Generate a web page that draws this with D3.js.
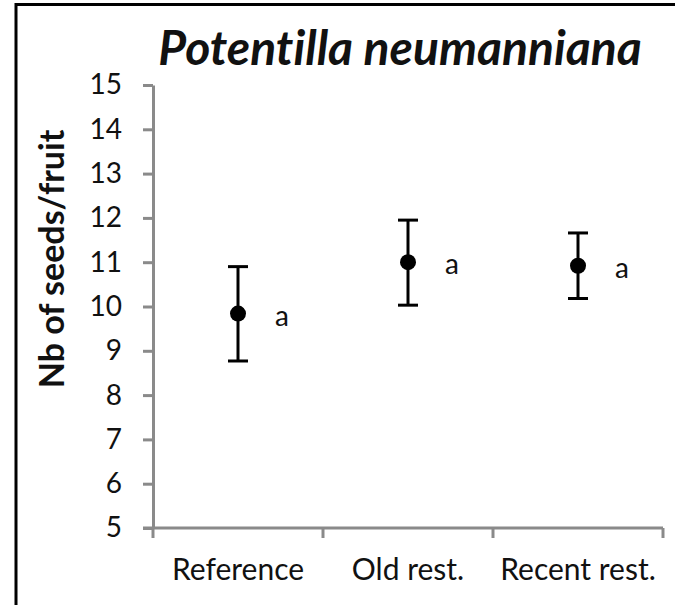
<!DOCTYPE html>
<html>
<head>
<meta charset="utf-8">
<script src="https://cdn.jsdelivr.net/npm/d3@7.9.0/dist/d3.min.js"></script>
<style>
  html, body { margin: 0; padding: 0; background: #fff; }
  svg { display: block; }
  text { font-family: Lato, "Open Sans", sans-serif; fill: #111; font-variant-ligatures: none; }
</style>
</head>
<body>
<svg id="chart" width="675" height="605"></svg>
<script>
// data
const categories = ['Reference', 'Old rest.', 'Recent rest.'];
const means = [9.84, 11.0, 10.92];
const upper = [10.9, 11.95, 11.66];
const lower = [8.77, 10.03, 10.18];
const letters = ['a', 'a', 'a'];
const yTicks = [5, 6, 7, 8, 9, 10, 11, 12, 13, 14, 15];

const svg = d3.select('#chart');
const axisColor = '#8a8a8a';

// scales
const x = d3.scaleBand().domain(categories).range([153, 663]).padding(0);
const y = d3.scaleLinear().domain([5, 15]).range([528, 85]);

// frame (top + left edges only)
svg.append('path')
  .attr('d', 'M16,605 L16,4.5 L675,4.5')
  .attr('fill', 'none')
  .attr('stroke', '#000')
  .attr('stroke-width', 3);

// title
svg.append('text')
  .attr('x', 400)
  .attr('y', 65)
  .attr('text-anchor', 'middle')
  .style('font-size', '48px')
  .style('font-weight', 'bold')
  .style('font-style', 'italic')
  .text('Potentilla neumanniana');

// y axis
const yAxis = svg.append('g')
  .attr('transform', 'translate(153,0)')
  .call(d3.axisLeft(y).tickValues(yTicks).tickSize(10).tickSizeOuter(0).tickPadding(21));
yAxis.select('.domain').attr('stroke', axisColor).attr('stroke-width', 3);
yAxis.selectAll('.tick line').attr('stroke', axisColor).attr('stroke-width', 3);
yAxis.selectAll('.tick text')
  .attr('fill', '#111')
  .style('font-size', '28px')
  .style('font-family', 'Lato, "Open Sans", sans-serif');

// x axis line + boundary ticks
const [x0, x1] = x.range();
svg.append('line')
  .attr('x1', x0 - 10).attr('x2', x1)
  .attr('y1', y(5)).attr('y2', y(5))
  .attr('stroke', axisColor).attr('stroke-width', 3);

const bounds = categories.map((c) => x(c)).concat(x1);
svg.selectAll('.xtick')
  .data(bounds)
  .join('line')
  .attr('class', 'xtick')
  .attr('x1', (d) => d).attr('x2', (d) => d)
  .attr('y1', y(5)).attr('y2', y(5) + 10)
  .attr('stroke', axisColor).attr('stroke-width', 3);

svg.selectAll('.xlab')
  .data(categories)
  .join('text')
  .attr('class', 'xlab')
  .attr('x', (d) => x(d) + x.bandwidth() / 2)
  .attr('y', 580)
  .attr('text-anchor', 'middle')
  .style('font-size', '30px')
  .text((d) => d);

// y label
svg.append('text')
  .attr('transform', 'translate(64,259) rotate(-90)')
  .attr('text-anchor', 'middle')
  .style('font-size', '34px')
  .style('font-weight', 'bold')
  .text('Nb of seeds/fruit');

// error bars
const cx = (i) => x(categories[i]) + x.bandwidth() / 2;
const capW = 10;

const bars = svg.append('g')
  .selectAll('g')
  .data(means)
  .join('g');

bars.append('line')
  .attr('x1', (d, i) => cx(i)).attr('x2', (d, i) => cx(i))
  .attr('y1', (d, i) => y(upper[i])).attr('y2', (d, i) => y(lower[i]))
  .attr('stroke', '#000').attr('stroke-width', 3);

bars.append('line')
  .attr('x1', (d, i) => cx(i) - capW).attr('x2', (d, i) => cx(i) + capW)
  .attr('y1', (d, i) => y(upper[i])).attr('y2', (d, i) => y(upper[i]))
  .attr('stroke', '#000').attr('stroke-width', 3);

bars.append('line')
  .attr('x1', (d, i) => cx(i) - capW).attr('x2', (d, i) => cx(i) + capW)
  .attr('y1', (d, i) => y(lower[i])).attr('y2', (d, i) => y(lower[i]))
  .attr('stroke', '#000').attr('stroke-width', 3);

bars.append('circle')
  .attr('cx', (d, i) => cx(i))
  .attr('cy', (d) => y(d))
  .attr('r', 8)
  .attr('fill', '#000');

// significance letters
bars.append('text')
  .attr('x', (d, i) => cx(i) + 44)
  .attr('y', (d) => y(d) + 12)
  .attr('text-anchor', 'middle')
  .style('font-size', '28px')
  .text((d, i) => letters[i]);
</script>
</body>
</html>
